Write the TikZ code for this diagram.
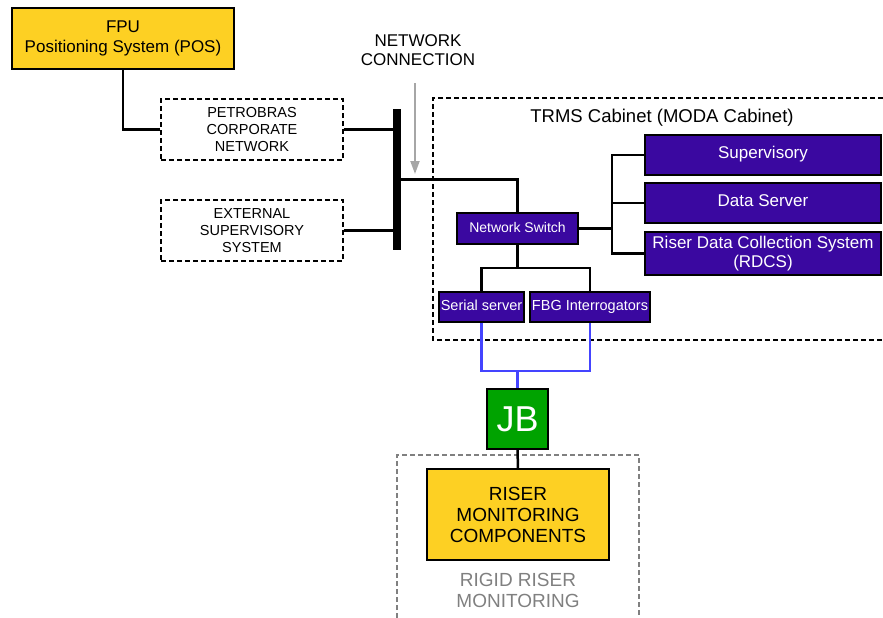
\documentclass[tikz,border=0pt]{standalone}
\usepackage{fontspec}
\setmainfont{Liberation Sans}
\usepackage{tikz}
\usetikzlibrary{arrows.meta}

\definecolor{posyellow}{HTML}{FDD023}
\definecolor{trmspurple}{HTML}{3A08A0}
\definecolor{jbgreen}{HTML}{00A300}
\definecolor{fiberblue}{HTML}{4444FF}

\tikzset{
    box/.style={draw, line width=1.2pt, inner sep=0pt, align=center},
    yellowbox/.style={box, fill=posyellow},
    dashbox/.style={box, dashed, dash pattern=on 5pt off 3pt},
    purplebox/.style={box, fill=trmspurple, text=white},
    oneline/.style={text height=0.72em, text depth=0pt},
    link/.style={line width=2.5pt},
    fiber/.style={line width=2.5pt, draw=fiberblue},
}

\begin{document}
\begin{tikzpicture}[x=1pt, y=-1pt]
    \useasboundingbox (0,0) rectangle (883,618);
    \node[yellowbox, minimum width=222pt, minimum height=61pt,
          font=\fontsize{17}{20}\selectfont](fpu) at (123,38.5)
          {FPU\\Positioning System (POS)};
    \node[dashbox, minimum width=182pt, minimum height=61pt,
          font=\fontsize{14.5}{17}\selectfont](petro) at (252,129.5)
          {PETROBRAS\\CORPORATE\\NETWORK};
    \node[dashbox, minimum width=182pt, minimum height=61pt,
          font=\fontsize{14.5}{17}\selectfont](ext) at (252,230.5)
          {EXTERNAL\\SUPERVISORY\\SYSTEM};
    \node[fill=black, inner sep=0pt, minimum width=8pt, minimum height=141pt](bus) at (397,179.5) {};
    \node[align=center, font=\fontsize{17}{19}\selectfont](netlabel) at (418,50)
          {NETWORK\\CONNECTION};
    \coordinate (arrowtop) at (415,83);
    \coordinate (arrowtip) at (415,174);
    \draw[line width=2pt, draw=gray!70, -{Triangle[length=13pt, width=9pt]}] (arrowtop) -- (arrowtip);

    % TRMS cabinet
    \draw[line width=1.5pt, dash pattern=on 5pt off 3pt] (883,98) -| (433,340) -- (883,340);
    \node[font=\fontsize{18.5}{20}\selectfont](cabinet) at (662,118) {TRMS Cabinet (MODA Cabinet)};
    \node[purplebox, oneline, minimum width=121pt, minimum height=31pt,
          font=\fontsize{14}{16}\selectfont](switch) at (517.5,228.5) {Network Switch};
    \node[purplebox, oneline, minimum width=236pt, minimum height=40pt,
          font=\fontsize{17}{19}\selectfont](sup) at (763,155) {Supervisory};
    \node[purplebox, oneline, minimum width=236pt, minimum height=40pt,
          font=\fontsize{17}{19}\selectfont](data) at (763,203) {Data Server};
    \node[purplebox, minimum width=236pt, minimum height=43pt,
          font=\fontsize{17}{19}\selectfont](rdcs) at (763,253.5)
          {Riser Data Collection System\\(RDCS)};
    \node[purplebox, oneline, minimum width=85pt, minimum height=30pt,
          font=\fontsize{14.5}{16}\selectfont](serial) at (481.5,307) {Serial server};
    \node[purplebox, oneline, minimum width=120pt, minimum height=30pt,
          font=\fontsize{14.5}{16}\selectfont](fbg) at (590,307) {FBG Interrogators};

    % field side
    \node[box, fill=jbgreen, text=white, minimum width=61pt, minimum height=60pt,
          font=\fontsize{36}{38}\selectfont](jb) at (517.5,419) {JB};
    \draw[line width=1.5pt, draw=gray, dash pattern=on 5pt off 3pt] (397,618) |- (639,455) -- (639,618);
    \node[yellowbox, minimum width=182pt, minimum height=91pt,
          font=\fontsize{19}{21}\selectfont](riser) at (518,514.5)
          {RISER\\MONITORING\\COMPONENTS};
    \node[align=center, text=gray, font=\fontsize{19}{21}\selectfont](rigid) at (518,590)
          {RIGID RISER\\MONITORING};

    % connectors
    \coordinate (hub) at (612,228.5);
    \coordinate (split) at (517.5,268);
    \coordinate (join) at (517.5,371);
    \draw[link] (fpu.south) |- (petro.west);
    \draw[link] (petro.east) -- (petro.east -| bus.west);
    \draw[link] (ext.east) -- (ext.east -| bus.west);
    \draw[link] (bus.east) -| (switch.north);
    \draw[link] (switch.east) -- (hub);
    \draw[link] (sup.west) -| (hub) |- (rdcs.west);
    \draw[link] (data.west) -- (data.west -| hub);
    \draw[link] (switch.south) -- (split);
    \draw[link] (serial.north) |- (split) -| (fbg.north);
    \draw[fiber] (serial.south) |- (join) -| (fbg.south);
    \draw[fiber] (join) -- (jb.north);
    \draw[link] (jb.south) -- (riser.north);
\end{tikzpicture}
\end{document}
